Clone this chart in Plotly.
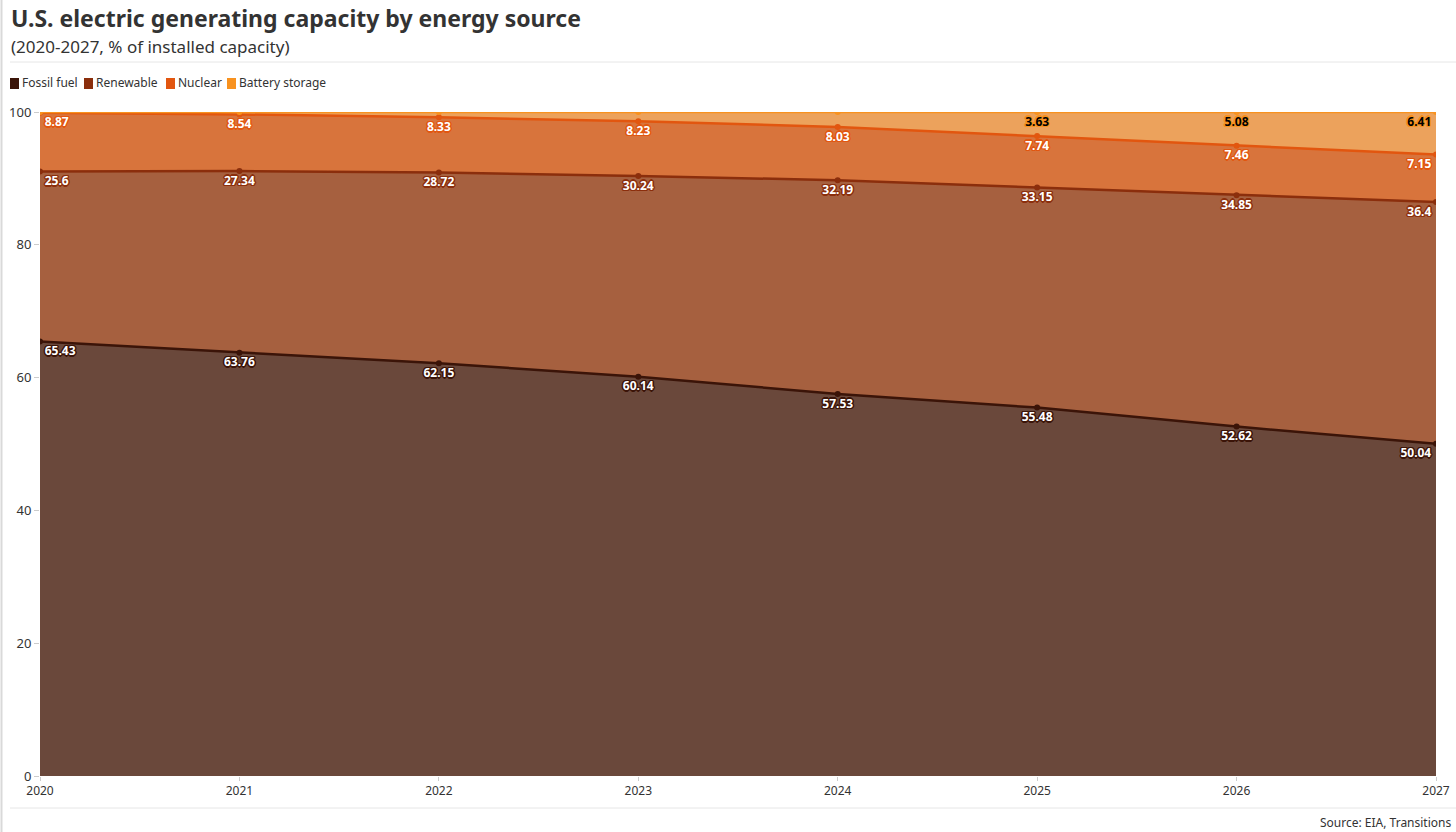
import plotly.graph_objects as go

years = [2020, 2021, 2022, 2023, 2024, 2025, 2026, 2027]
fossil = [65.43, 63.76, 62.15, 60.14, 57.53, 55.48, 52.62, 50.04]
renewable = [25.6, 27.34, 28.72, 30.24, 32.19, 33.15, 34.85, 36.4]
nuclear = [8.87, 8.54, 8.33, 8.23, 8.03, 7.74, 7.46, 7.15]
battery = [0.1, 0.36, 0.8, 1.39, 2.25, 3.63, 5.08, 6.41]
series_names = ["Fossil fuel", "Renewable", "Nuclear", "Battery storage"]

fills = ["#6a483b", "#a6603f", "#d8743c", "#eca25c"]
lines = ["#3b1408", "#8b2e0c", "#e2560f", "#f8921f"]
legend_cols = ["#3b1408", "#8b2e0c", "#e2560f", "#f8921f"]
txtcol = ["white", "white", "white", "black"]

W, H = 1456, 832
L, R, T, B = 40, 20, 112, 56
PW, PH = W - L - R, H - T - B

def px(x):
    return (x - L) / PW

def py(y):
    return (H - B - y) / PH

def outline(c):
    pts = [(-1, -1), (1, -1), (-1, 1), (1, 1), (0, 1.5), (0, -1.5), (1.5, 0), (-1.5, 0)]
    return ", ".join(f"{dx}px {dy}px 0.5px {c}" for dx, dy in pts)

fig = go.Figure()
positions = ["bottom right"] + ["bottom center"] * (len(years) - 2) + ["bottom left"]
for i, (name, vals) in enumerate(zip(series_names, [fossil, renewable, nuclear, battery])):
    if name == "Battery storage":
        text = [f"{v:g}" if v >= 3 else "" for v in vals]
    else:
        text = [f"{v:g}" for v in vals]
    fig.add_trace(go.Scatter(
        x=years, y=vals, name=name, stackgroup="one", mode="lines+markers+text",
        line=dict(color=lines[i], width=2.5), fillcolor=fills[i],
        marker=dict(size=6, color=lines[i]),
        text=text, textposition=positions,
        textfont=dict(color=txtcol[i], size=12, family="Noto Sans", weight="bold",
                      shadow=outline(lines[i])),
        hoverinfo="skip", showlegend=False,
    ))

fig.update_layout(
    width=W, height=H,
    margin=dict(l=L, r=R, t=T, b=B, autoexpand=False),
    paper_bgcolor="white", plot_bgcolor="white",
    font=dict(family="Noto Sans", color="#333333", size=13),
    showlegend=False,
    hovermode=False,
    xaxis=dict(range=[2020, 2027], tickvals=years, ticktext=[str(y) for y in years],
               showgrid=False, zeroline=False, showline=False, ticks="outside", automargin=False,
               ticklen=4, tickcolor="#cccccc", tickfont=dict(size=12, color="#333333")),
    yaxis=dict(range=[0, 100], tickvals=[0, 20, 40, 60, 80, 100], showgrid=True, automargin=False,
               gridcolor="rgba(255,255,255,0.18)", zeroline=False, showline=False,
               ticks="outside", ticklen=5, tickcolor="#cccccc", layer="above traces",
               tickfont=dict(size=13, color="#333333")),
)

shapes = [
    dict(type="line", xref="paper", yref="paper", x0=px(10), x1=px(1456), y0=py(62), y1=py(62),
         line=dict(color="#e6e6e6", width=1)),
    dict(type="line", xref="paper", yref="paper", x0=px(10), x1=px(1456), y0=py(808), y1=py(808),
         line=dict(color="#e6e6e6", width=1)),
    dict(type="line", xref="paper", yref="paper", x0=px(1.5), x1=px(1.5), y0=py(0), y1=py(832),
         line=dict(color="#d9d9d9", width=2)),
    dict(type="line", xref="x", yref="y", x0=2020, x1=2027, y0=100, y1=100, layer="below",
         line=dict(color="#c3ccd6", width=4)),
    dict(type="line", xref="x", yref="y", x0=2027, x1=2027, y0=0, y1=100, layer="below",
         line=dict(color="#c3c6ca", width=6)),
]

# manual legend (compact, square swatches)
legend_x = [10, 84, 166, 227]
for i, name in enumerate(series_names):
    x0 = legend_x[i]
    shapes.append(dict(type="rect", xref="paper", yref="paper",
                       x0=px(x0), x1=px(x0 + 9), y0=py(78), y1=py(89),
                       fillcolor=legend_cols[i], line=dict(width=0)))
    fig.add_annotation(text=name, xref="paper", yref="paper", x=px(x0 + 10), y=py(83),
                       xanchor="left", yanchor="middle", showarrow=False,
                       font=dict(size=12, color="#333333", family="Noto Sans"))
fig.update_layout(shapes=shapes)

fig.add_annotation(text="<b>U.S. electric generating capacity by energy source</b>",
                   xref="paper", yref="paper", x=px(9), y=py(18), xanchor="left", yanchor="middle",
                   showarrow=False, font=dict(size=23, color="#333333", family="Noto Sans"))
fig.add_annotation(text="(2020-2027, % of installed capacity)",
                   xref="paper", yref="paper", x=px(9), y=py(47), xanchor="left", yanchor="middle",
                   showarrow=False, font=dict(size=17, color="#333333", family="Noto Sans"))
fig.add_annotation(text="Source: EIA, Transitions",
                   xref="paper", yref="paper", x=px(1453), y=py(822), xanchor="right", yanchor="middle",
                   showarrow=False, font=dict(size=12, color="#333333", family="Noto Sans"))

fig.write_html("out.html", config={"displayModeBar": False},
               post_script="document.body.style.margin='0';document.body.style.overflow='hidden';")
